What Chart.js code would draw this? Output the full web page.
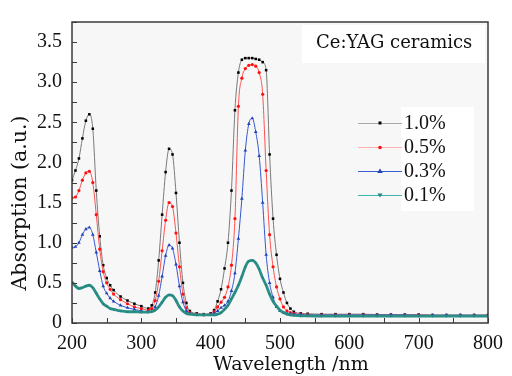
<!DOCTYPE html>
<html>
<head>
<meta charset="utf-8">
<script src="https://cdn.jsdelivr.net/npm/chart.js@4/dist/chart.umd.min.js"></script>
<style>
  html, body { margin: 0; padding: 0; background: #fff; }
  #wrap { width: 512px; height: 376px; }
</style>
</head>
<body>
<div id="wrap"><canvas id="absChart" width="512" height="376"></canvas></div>
<script>
// wavelength grid (nm), shared by all four samples
const wavelengths = [200,205,210,215,220,225,230,235,240,245,250,255,260,270,280,290,300,310,
  315,320,325,330,335,340,345,350,355,360,365,370,380,390,
  400,405,410,415,420,425,430,435,440,445,450,455,460,465,470,475,480,485,490,495,500,505,510,515,520,
  530,540,560,580,600,620,640,660,680,700,720,740,760,780,800];

// absorption (a.u.)
const ce10 = [1.78,1.9,2.05,2.3,2.52,2.6,2.42,1.65,1.08,0.72,0.56,0.47,0.41,0.33,0.28,0.24,0.21,0.18,
  0.22,0.38,0.78,1.35,1.88,2.17,2.1,1.62,1.0,0.5,0.25,0.15,0.12,0.11,
  0.12,0.16,0.27,0.42,0.68,1.0,1.65,2.65,3.12,3.28,3.3,3.3,3.3,3.29,3.28,3.25,3.15,2.1,1.3,0.85,0.55,0.38,0.25,0.18,0.14,
  0.12,0.115,0.11,0.11,0.11,0.11,0.105,0.105,0.105,0.105,0.1,0.1,0.1,0.1,0.1];
const ce05 = [1.56,1.57,1.65,1.78,1.87,1.89,1.75,1.35,0.92,0.64,0.5,0.42,0.36,0.29,0.24,0.2,0.18,0.16,
  0.18,0.28,0.52,0.9,1.28,1.5,1.45,1.12,0.7,0.36,0.19,0.13,0.11,0.1,
  0.11,0.14,0.2,0.26,0.32,0.45,0.72,1.3,2.7,3.05,3.17,3.21,3.22,3.2,3.12,2.85,1.9,1.1,0.7,0.45,0.3,0.2,0.15,0.13,0.12,
  0.11,0.105,0.1,0.1,0.1,0.1,0.1,0.1,0.1,0.1,0.095,0.095,0.095,0.095,0.095];
const ce03 = [0.94,0.95,1.0,1.1,1.17,1.19,1.1,0.88,0.65,0.46,0.37,0.31,0.27,0.22,0.19,0.17,0.15,0.14,
  0.15,0.2,0.34,0.58,0.84,0.97,0.93,0.73,0.46,0.26,0.15,0.12,0.1,0.1,
  0.1,0.12,0.15,0.19,0.22,0.27,0.4,0.62,1.05,1.55,2.15,2.48,2.55,2.38,2.08,1.5,0.85,0.5,0.32,0.2,0.15,0.13,0.12,0.11,0.11,
  0.105,0.1,0.1,0.1,0.1,0.1,0.1,0.1,0.1,0.095,0.095,0.095,0.095,0.095,0.095];
const ce01 = [0.51,0.46,0.43,0.44,0.46,0.47,0.44,0.37,0.3,0.24,0.21,0.18,0.17,0.15,0.14,0.14,0.135,0.135,
  0.14,0.16,0.2,0.26,0.32,0.35,0.34,0.28,0.2,0.15,0.12,0.11,0.1,0.1,
  0.1,0.1,0.11,0.13,0.17,0.22,0.3,0.38,0.47,0.58,0.7,0.77,0.78,0.75,0.67,0.56,0.47,0.36,0.27,0.21,0.16,0.13,0.11,0.1,0.095,
  0.09,0.09,0.085,0.085,0.085,0.085,0.085,0.085,0.085,0.085,0.085,0.085,0.085,0.085,0.085];

const seriesLabels = ["1.0%", "0.5%", "0.3%", "0.1%"];
const xTicks = [200, 300, 400, 500, 600, 700, 800];
const yTicks = [0, 0.5, 1.0, 1.5, 2.0, 2.5, 3.0, 3.5];
const yTickLabels = ["0", "0.5", "1.0", "1.5", "2.0", "2.5", "3.0", "3.5"];
const sampleName = "Ce:YAG ceramics";
const xTitle = "Wavelength /nm";
const yTitle = "Absorption (a.u.)";

const FONT = '"Liberation Serif", "Times New Roman", serif';
const TITLE_FONT = '"DejaVu Serif", serif';

const styles = [
  { line: "#7a7a7a", point: "#000000", shape: "rect", rot: 0, width: 1, r: 1.8 },
  { line: "#ff5050", point: "#ff1010", shape: "circle", rot: 0, width: 1, r: 1.6 },
  { line: "#3558d0", point: "#2244b8", shape: "triangle", rot: 0, width: 1, r: 2.1 },
  { line: "#2a8f86", point: "#25857c", shape: "triangle", rot: 180, width: 2.8, r: 1.6 }
];
const legendLine = ["#aaaaaa", "#ffb0b0", "#3a5fd0", "#3fb3b0"];

const allValues = [ce10, ce05, ce03, ce01];

const datasets = allValues.map((vals, i) => ({
  label: seriesLabels[i],
  data: wavelengths.map((w, j) => ({ x: w, y: vals[j] })),
  borderColor: styles[i].line,
  borderWidth: styles[i].width,
  backgroundColor: styles[i].point,
  pointBackgroundColor: styles[i].point,
  pointBorderColor: styles[i].point,
  pointBorderWidth: 0,
  pointStyle: styles[i].shape,
  rotation: styles[i].rot,
  pointRadius: styles[i].r,
  cubicInterpolationMode: "monotone",
  order: 4 - i
}));

// frame, inward ticks, legend and sample label
const decorations = {
  id: "decorations",
  beforeDraw(chart) {
    const { ctx, chartArea: a } = chart;
    ctx.save();
    ctx.fillStyle = "#f7f7f7";
    ctx.fillRect(a.left, a.top, a.right - a.left, a.bottom - a.top);
    ctx.restore();
  },
  afterDraw(chart) {
    const { ctx, chartArea: a, scales } = chart;
    ctx.save();
    ctx.strokeStyle = "#3a3a3a";
    ctx.lineWidth = 1.5;
    ctx.strokeRect(a.left, a.top, a.right - a.left, a.bottom - a.top);

    ctx.lineWidth = 1;
    ctx.beginPath();
    for (let v = 200; v <= 800; v += 50) {
      const px = Math.round(scales.x.getPixelForValue(v)) + 0.5;
      ctx.moveTo(px, a.bottom); ctx.lineTo(px, a.bottom - 5);
    }
    for (let v = 0; v <= 3.75; v += 0.25) {
      const py = Math.round(scales.y.getPixelForValue(v)) + 0.5;
      ctx.moveTo(a.left, py); ctx.lineTo(a.left + 5, py);
    }
    ctx.stroke();

    // sample label box
    ctx.fillStyle = "#ffffff";
    ctx.fillRect(302, 25, 183, 38);
    ctx.fillStyle = "#111";
    ctx.font = "18px " + TITLE_FONT;
    ctx.textBaseline = "middle";
    ctx.textAlign = "left";
    ctx.fillText(sampleName, 316, 43);

    // legend
    ctx.fillStyle = "#ffffff";
    ctx.fillRect(401, 107, 73, 104);
    ctx.font = "20px " + FONT;
    seriesLabels.forEach((lab, i) => {
      const y = 123 + i * 24;
      ctx.strokeStyle = legendLine[i];
      ctx.lineWidth = 1.2;
      ctx.beginPath();
      ctx.moveTo(358, y + 0.5); ctx.lineTo(402, y + 0.5);
      ctx.stroke();
      ctx.fillStyle = styles[i].point;
      ctx.beginPath();
      if (i === 0) ctx.rect(378.5, y - 1.5, 3, 3);
      else if (i === 1) ctx.arc(380, y + 0.5, 1.8, 0, Math.PI * 2);
      else if (i === 2) { ctx.moveTo(380, y - 2.5); ctx.lineTo(382.8, y + 2); ctx.lineTo(377.2, y + 2); }
      else { ctx.moveTo(380, y + 2.5); ctx.lineTo(382.6, y - 1.5); ctx.lineTo(377.4, y - 1.5); }
      ctx.fill();
      ctx.fillStyle = "#111";
      ctx.fillText(lab, 404, y + 1);
    });

    // axis titles
    ctx.fillStyle = "#111";
    ctx.font = "19px " + TITLE_FONT;
    ctx.textAlign = "center";
    ctx.fillText(xTitle, 291, 365);
    ctx.font = "20.5px " + TITLE_FONT;
    ctx.translate(21, 203);
    ctx.rotate(-Math.PI / 2);
    ctx.fillText(yTitle, 0, 0);
    ctx.restore();
  }
};

new Chart(document.getElementById("absChart"), {
  type: "line",
  data: { datasets },
  options: {
    responsive: false,
    animation: false,
    layout: { padding: { left: 0, top: 12, right: 19, bottom: 0 } },
    plugins: { legend: { display: false }, tooltip: { enabled: false } },
    scales: {
      x: {
        type: "linear",
        min: 200, max: 800,
        afterFit: (s) => { s.height = 53; },
        afterBuildTicks: (s) => { s.ticks = xTicks.map(v => ({ value: v })); },
        grid: { display: false, drawTicks: false },
        border: { display: false },
        ticks: { padding: 9, color: "#111", font: { family: FONT, size: 20 } }
      },
      y: {
        min: 0, max: 3.75,
        afterFit: (s) => { s.width = 72; },
        afterBuildTicks: (s) => { s.ticks = yTicks.map(v => ({ value: v })); },
        grid: { display: false, drawTicks: false },
        border: { display: false },
        ticks: {
          padding: 10, color: "#111", font: { family: FONT, size: 20 },
          callback: (v) => yTickLabels[yTicks.indexOf(v)]
        }
      }
    }
  },
  plugins: [decorations]
});
</script>
</body>
</html>
